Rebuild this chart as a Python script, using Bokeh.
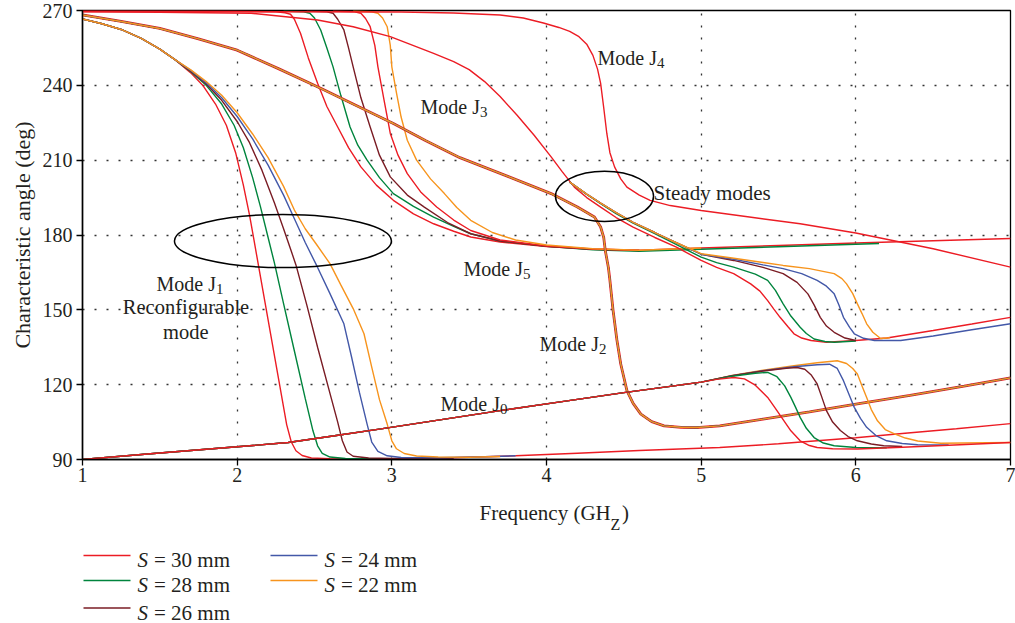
import math
from bokeh.plotting import figure
from bokeh.models import Range1d, Label, FixedTicker, Title
from bokeh.layouts import column
from bokeh.embed import file_html
from bokeh.resources import INLINE

# ---------------- data (frequency GHz, characteristic angle deg) ----------------
S_VALUES = [30, 28, 26, 24, 22]
COLORS = ["#ec1c24", "#00843d", "#7a1c24", "#4358a8", "#f7941d"]
J3_COLORS = ["#ec1c24", "#00843d", "#7a1c24", "#ec1c24", "#f7941d"]

X_TICKS = [1, 2, 3, 4, 5, 6, 7]
Y_TICKS = [90, 120, 150, 180, 210, 240, 270]

# Mode J1 (reconfigurable mode)
J1_START = [(1.0, 266.6), (1.12, 264.8), (1.25, 262.4), (1.38, 258.8), (1.5, 254.5), (1.6, 250.2)]
J1_30 = [(1.7, 245.0), (1.78, 239.8), (1.86, 232.5), (1.93, 224), (1.99, 213), (2.04, 200), (2.08, 188),
         (2.11, 177.5), (2.15, 163.5), (2.2, 146), (2.27, 121.5), (2.32, 104), (2.35, 97), (2.38, 93.5),
         (2.42, 91.6), (2.48, 90.6), (2.6, 90.3), (3.0, 90.2), (3.3, 90.5), (3.5, 90.9), (3.8, 91.5),
         (4.2, 92.5), (4.6, 93.6), (5.12, 94.8), (5.5, 96.3), (6.0, 98.7), (6.3, 100.4), (6.65, 102.3),
         (7.0, 104.4)]
J1_28 = [(1.7, 245.5), (1.8, 240), (1.9, 232.5), (1.98, 224), (2.04, 215), (2.1, 203), (2.15, 191.5),
         (2.2, 179), (2.24, 169), (2.3, 152.5), (2.37, 133.5), (2.44, 114.5), (2.49, 101.5), (2.52, 95.5),
         (2.55, 92.5), (2.6, 91), (2.7, 90.4), (3.0, 90.3), (3.3, 90.4)]
J1_26 = [(1.7, 245.7), (1.8, 240.5), (1.9, 234), (2.0, 225.5), (2.08, 217), (2.16, 206), (2.24, 193),
         (2.3, 182.5), (2.35, 173.5), (2.38, 168), (2.45, 152), (2.52, 135), (2.6, 116.5), (2.65, 105),
         (2.68, 97.5), (2.71, 93), (2.75, 91.3), (2.85, 90.6), (3.0, 90.4), (3.4, 90.4)]
J1_24 = [(1.7, 246), (1.8, 241), (1.9, 235), (2.0, 227.5), (2.1, 218.5), (2.2, 208), (2.3, 196),
         (2.37, 186.5), (2.44, 177), (2.52, 167), (2.6, 156.5), (2.69, 144.4), (2.74, 131), (2.79, 117),
         (2.84, 104.2), (2.87, 97), (2.91, 93.3), (2.97, 91.5), (3.06, 90.8), (3.3, 90.7), (3.6, 91.1),
         (3.8, 91.5)]
J1_22 = [(1.7, 246.2), (1.8, 241.5), (1.9, 236), (2.0, 229), (2.1, 220.5), (2.2, 211), (2.3, 199.5),
         (2.37, 190), (2.44, 182.5), (2.51, 176.5), (2.6, 168.5), (2.67, 160), (2.75, 150.5), (2.82, 140.4),
         (2.87, 127), (2.92, 114), (2.97, 104.2), (3.0, 97.5), (3.03, 94.3), (3.08, 92.4), (3.16, 91.4),
         (3.3, 91.0), (3.5, 90.9), (3.7, 91.2)]

# Mode J0 (common rising part, then S-dependent humps)
J0_START = [(1.0, 90.0), (1.44, 92.3), (1.9, 94.6), (2.33, 96.8), (2.63, 99.5), (2.93, 102.3), (3.3, 105.8),
            (3.7, 109.6), (4.1, 113.2), (4.5, 116.8), (4.8, 119.3), (5.0, 121.0)]
J0_30 = [(5.1, 122.1), (5.21, 122.9), (5.28, 122.3), (5.35, 119.8), (5.43, 114.9), (5.48, 110.5), (5.52, 106.9),
         (5.58, 101.5), (5.64, 97.5), (5.7, 95.6), (5.75, 94.8), (5.85, 94.3), (6.01, 94.2), (6.3, 94.9),
         (6.6, 95.7), (7.0, 96.8)]
J0_28 = [(5.2, 123.4), (5.35, 124.6), (5.43, 124.9), (5.49, 123.2), (5.54, 119.5), (5.58, 114.9), (5.61, 111),
         (5.64, 106.9), (5.68, 102.5), (5.73, 98.8), (5.79, 96.6), (5.86, 95.5), (6.0, 94.8), (6.2, 94.7)]
J0_26 = [(5.2, 123.6), (5.4, 125.5), (5.55, 126.6), (5.62, 126.9), (5.67, 126.2), (5.71, 124), (5.75, 120.3),
         (5.78, 115), (5.81, 109.6), (5.85, 105), (5.9, 101.6), (5.95, 99.2), (6.01, 97.5), (6.1, 96.2),
         (6.18, 95.5), (6.3, 95.2)]
J0_24 = [(5.2, 123.6), (5.4, 125.6), (5.6, 127.2), (5.75, 128), (5.83, 128.2), (5.88, 126.5), (5.92, 121.6),
         (5.96, 115.5), (5.99, 110.9), (6.03, 106.5), (6.07, 102.9), (6.13, 99.6), (6.2, 97.5), (6.3, 96.4),
         (6.4, 95.9), (6.6, 95.8)]
J0_22 = [(5.2, 123.7), (5.4, 125.8), (5.6, 127.6), (5.75, 128.8), (5.88, 129.6), (5.94, 128.5), (5.98, 126.5),
         (6.01, 124.3), (6.04, 119.5), (6.07, 114.9), (6.1, 110), (6.14, 105.5), (6.19, 102), (6.25, 100.3),
         (6.32, 98.6), (6.4, 97.4), (6.55, 96.5), (7.0, 96.8)]

# Mode J2 (all S overlap)
J2 = [(1.0, 268.2), (1.25, 265.6), (1.5, 262.8), (1.75, 258.6), (2.0, 254.1), (2.27, 246.6), (2.54, 238.8),
      (2.78, 231.6), (3.01, 224.7), (3.22, 217.8), (3.44, 211.0), (3.75, 203.5), (4.03, 196.6), (4.2, 191.2),
      (4.31, 187.2), (4.35, 183.2), (4.37, 179.0), (4.38, 173.8), (4.40, 167.0), (4.41, 161.8), (4.43, 150.0),
      (4.455, 138.0), (4.48, 128.3), (4.52, 117.6), (4.56, 112.5), (4.61, 108.2), (4.68, 105.2), (4.76, 103.5),
      (4.87, 102.9), (4.97, 102.8), (5.12, 103.5), (5.4, 106.2), (5.7, 109.1), (6.0, 112.2), (6.35, 115.7),
      (6.7, 119.4), (7.0, 122.7)]

# Mode J3 / J5 family (drop from 270 towards ~175)
J3_30 = [(1.0, 269.8), (2.0, 269.7), (2.25, 269.5), (2.31, 269.1), (2.345, 268.5), (2.37, 266.5), (2.41, 260.8),
         (2.46, 251), (2.52, 240.8), (2.58, 231.5), (2.65, 223.3), (2.72, 215), (2.80, 207.3), (2.9, 200),
         (3.01, 193.9), (3.14, 188.5), (3.27, 184.5), (3.4, 181.5), (3.51, 179.2), (3.7, 177.2), (4.0, 175.4),
         (4.3, 174.3), (4.6, 173.9), (5.0, 174.8), (5.5, 175.8), (6.0, 176.8), (6.5, 177.7), (7.0, 178.6)]
J3_28 = [(2.3, 269.8), (2.43, 269.5), (2.47, 268.9), (2.5, 267), (2.54, 262.2), (2.58, 255), (2.62, 247.4),
         (2.67, 236), (2.73, 223.3), (2.78, 216), (2.84, 210), (2.92, 203), (3.01, 196.6), (3.14, 191.5),
         (3.27, 187.2), (3.4, 183.5), (3.51, 180.5), (3.7, 177.6), (4.0, 175.5), (4.3, 174.1), (4.6, 173.5),
         (5.0, 174.3), (5.5, 175.3), (6.0, 176.3), (6.15, 176.6)]
J3_26 = [(2.45, 269.8), (2.58, 269.5), (2.62, 268.9), (2.65, 266.5), (2.69, 262.2), (2.72, 255), (2.75, 247.4),
         (2.8, 235), (2.86, 223.3), (2.92, 212), (2.99, 203.3), (3.1, 196), (3.21, 191.2), (3.36, 185),
         (3.51, 180.5), (3.7, 177.6), (4.0, 175.5), (4.3, 174.3), (4.6, 173.8)]
J3_24 = [(2.62, 269.8), (2.76, 269.5), (2.80, 268.9), (2.83, 266.8), (2.86, 263.5), (2.89, 256), (2.91, 247.4),
         (2.95, 234), (2.99, 220.7), (3.04, 212), (3.10, 204.6), (3.19, 197), (3.29, 191.2), (3.4, 186),
         (3.51, 181.8), (3.7, 178), (4.0, 175.6), (4.3, 174.4), (4.6, 173.9)]
J3_22 = [(2.75, 269.8), (2.87, 269.5), (2.91, 268.9), (2.94, 267), (2.97, 263.5), (2.99, 256), (3.0, 247.4),
         (3.03, 237), (3.06, 227.3), (3.1, 218), (3.16, 210), (3.25, 202.5), (3.34, 196.6), (3.42, 191),
         (3.51, 185.9), (3.65, 181), (3.8, 178), (4.0, 176), (4.3, 174.5), (4.6, 173.9), (5.0, 174.8)]

# Steady modes branch (drops near 5.5-6.2 GHz)
E_30 = [(1.0, 269.5), (1.5, 269.3), (2.09, 268.9), (2.52, 266.2), (2.75, 263.5), (2.99, 259.5), (3.27, 252.8),
        (3.4, 249.5), (3.5, 246.3), (3.6, 241.5), (3.7, 235.5), (3.81, 228), (3.92, 220), (4.03, 211.3),
        (4.1, 205.5), (4.18, 199.2), (4.26, 195), (4.35, 191.2), (4.45, 187), (4.56, 183.2), (4.7, 179),
        (4.84, 175.1), (5.0, 169.8), (5.1, 167), (5.21, 164.5), (5.32, 160.4), (5.38, 157.5), (5.43, 153.7),
        (5.47, 150.3), (5.51, 147), (5.56, 143.3), (5.6, 140.4), (5.65, 138.7), (5.71, 137.7), (5.81, 137.0),
        (6.0, 137.7), (6.2, 138.7), (6.5, 141.7), (6.75, 144.3), (7.0, 147.0)]
E_28 = [(4.15, 201.2), (4.26, 196.3), (4.35, 192.6), (4.45, 188.6), (4.56, 184.8), (4.7, 180.6), (4.8, 177.4),
        (5.0, 171.1), (5.1, 168.9), (5.21, 167.1), (5.35, 164.3), (5.43, 161.8), (5.48, 157.8), (5.53, 152.4),
        (5.58, 147.5), (5.64, 143), (5.68, 140.5), (5.73, 138.3), (5.8, 137.3), (5.86, 137.0), (6.0, 137.5)]
E_26 = [(4.15, 201.2), (4.26, 196.4), (4.35, 192.8), (4.45, 189), (4.56, 185.1), (4.7, 181), (4.8, 178),
        (5.0, 172.3), (5.21, 169.8), (5.4, 167), (5.53, 164.5), (5.62, 161), (5.69, 156.4), (5.73, 152),
        (5.77, 147), (5.81, 143.5), (5.86, 141), (5.93, 138.7), (6.0, 137.7)]
E_24 = [(4.15, 201.2), (4.26, 196.4), (4.35, 192.8), (4.45, 189), (4.56, 185.1), (4.7, 181), (4.8, 178),
        (5.0, 172.3), (5.21, 170.3), (5.4, 168), (5.53, 166.5), (5.65, 164.5), (5.75, 161.8), (5.81, 159.5),
        (5.86, 156.4), (5.89, 152), (5.92, 147), (5.96, 143), (5.99, 140.4), (6.05, 138.6), (6.12, 137.7),
        (6.29, 137.7), (6.5, 139.5), (6.75, 142), (7.0, 144.4)]
E_22 = [(4.15, 201.2), (4.26, 196.4), (4.35, 192.8), (4.45, 189), (4.56, 185.1), (4.7, 181), (4.8, 178),
        (5.0, 172.5), (5.2, 170.8), (5.4, 169), (5.53, 167.8), (5.7, 166.5), (5.86, 164.5), (5.91, 162.5),
        (5.94, 160.4), (5.98, 156.5), (6.01, 152.4), (6.04, 148.5), (6.07, 144.4), (6.11, 141), (6.16, 138.5),
        (6.22, 138.8)]

# Mode J4
J4 = [(1.0, 269.6), (2.0, 269.5), (3.06, 269.4), (3.4, 269.0), (3.7, 268.2), (3.85, 267.0), (3.98, 265.0),
      (4.08, 263.2), (4.15, 261.6), (4.21, 259.5), (4.26, 256.5), (4.3, 252.0), (4.33, 246.5), (4.35, 240.8),
      (4.37, 231.0), (4.39, 220.7), (4.41, 213.0), (4.44, 207.3), (4.48, 202.5), (4.52, 199.2), (4.6, 196.0),
      (4.67, 193.9), (4.8, 191.8), (5.0, 189.8), (5.3, 187.3), (5.64, 184.5), (6.0, 180.8), (6.5, 174.5),
      (7.0, 167.1)]

# Ellipse annotations (center freq, center angle, width GHz, height deg)
ELLIPSE_X = [2.296, 4.375]
ELLIPSE_Y = [177.6, 195.5]
ELLIPSE_W = [1.403, 0.634]
ELLIPSE_H = [21.3, 20.1]

# ---------------- main figure ----------------
FONT = "Liberation Serif"
TXT = "#231f20"
LW = 1.4

p = figure(width=1015, height=500, x_range=Range1d(1, 7), y_range=Range1d(90, 270),
           toolbar_location=None, output_backend="svg",
           min_border_left=82, min_border_right=5, min_border_top=10, min_border_bottom=41)
p.background_fill_color = "white"
p.border_fill_color = "white"
p.outline_line_color = "black"
p.outline_line_width = 1.3

for ax in (p.xaxis[0], p.yaxis[0]):
    ax.axis_line_color = "black"
    ax.axis_line_width = 1.5
    ax.major_tick_line_color = "black"
    ax.major_tick_line_width = 1.3
    ax.major_tick_out = 6
    ax.major_tick_in = 0
    ax.minor_tick_line_color = None
    ax.major_label_text_font = FONT
    ax.major_label_text_font_size = "20px"
    ax.major_label_text_color = TXT
p.xaxis.ticker = FixedTicker(ticks=X_TICKS)
p.yaxis.ticker = FixedTicker(ticks=Y_TICKS)
p.xaxis.major_label_standoff = 2
p.yaxis.major_label_standoff = 4

p.grid.grid_line_color = "#333333"
p.grid.grid_line_width = 1.3
p.grid.grid_line_dash = "2 10"

# y-axis title (placed left of the axis, shifted up as in the reference)
p.add_layout(Title(text="Characteristic angle (deg)", align="center", offset=16, standoff=10,
                   text_font=FONT, text_font_size="22px", text_font_style="normal",
                   text_color=TXT), "left")


def draw(pts, color, width=LW):
    p.line([q[0] for q in pts], [q[1] for q in pts], line_color=color, line_width=width)


for pts, c in zip([J3_30, J3_28, J3_26, J3_24, J3_22], J3_COLORS):
    draw(pts, c)
for pts, c in zip([E_30, E_28, E_26, E_24, E_22], COLORS):
    draw(pts, c)
draw(J4, COLORS[0])
for pts, c in zip([J1_30, J1_28, J1_26, J1_24, J1_22], COLORS):
    draw(J1_START + pts, c)
draw(J2, COLORS[0], 2.8)
for c in COLORS[1:]:
    draw(J2, c, 1.4)
for pts, c in reversed(list(zip([J0_30, J0_28, J0_26, J0_24, J0_22], COLORS))):
    draw(J0_START + pts, c)

p.ellipse(x=ELLIPSE_X, y=ELLIPSE_Y, width=ELLIPSE_W, height=ELLIPSE_H,
          fill_color=None, line_color="black", line_width=1.5)


def fx(px):
    return 1 + (px - 82) * 6 / 928


def fy(py):
    return 270 - (py - 10) * 180 / 449


def text(t, px, py, size="20px", align="left"):
    p.add_layout(Label(x=fx(px), y=fy(py), text=t, text_font=FONT, text_font_size=size,
                       text_align=align, text_baseline="alphabetic", text_color=TXT))


def mode_label(sub, px, py):
    text("Mode J", px, py)
    text(sub, px + 59.5, py + 5, size="15px")


mode_label("4", 597, 57)
mode_label("3", 420, 106)
mode_label("5", 463, 268.3)
mode_label("1", 156, 283.3)
mode_label("2", 539, 343.3)
mode_label("0", 440, 403.3)
text("Steady modes", 653, 192.7, size="21px")
text("Reconfigurable", 185.5, 306.7, size="20.5px", align="center")
text("mode", 185.3, 331, size="20.5px", align="center")

# ---------------- bottom panel: x-axis title and legend (page pixel coords) ----------------
leg = figure(width=1015, height=123, x_range=Range1d(82, 1010), y_range=Range1d(623, 500),
             toolbar_location=None, output_backend="svg",
             min_border_left=82, min_border_right=5, min_border_top=0, min_border_bottom=0,
             x_axis_type=None, y_axis_type=None)
leg.outline_line_color = None
leg.grid.visible = False
leg.background_fill_color = "white"
leg.border_fill_color = "white"


def ltext(t, px, py, size="21px", style="normal"):
    leg.add_layout(Label(x=px, y=py, text=t, text_font=FONT, text_font_size=size,
                         text_font_style=style, text_baseline="alphabetic", text_color=TXT))


ltext("Frequency (GH", 479, 512.3)
ltext("Z", 610, 524, size="16px")
ltext(")", 621.5, 512.3)

COL_X = [83, 270]
ROW_Y = [555, 580, 607.5]
for i, (s, c) in enumerate(zip(S_VALUES, COLORS)):
    col, row = (0, i) if i < 3 else (1, i - 3)
    x0 = COL_X[col]
    y0 = ROW_Y[row]
    leg.line([x0, x0 + 47], [y0, y0], line_color=c, line_width=1.6)
    ltext("S", x0 + 54, y0 + 4.5, style="italic")
    ltext("= %d mm" % s, x0 + 70.5, y0 + 4.5)

layout = column(p, leg)
open("out.html", "w").write(file_html(layout, INLINE))
